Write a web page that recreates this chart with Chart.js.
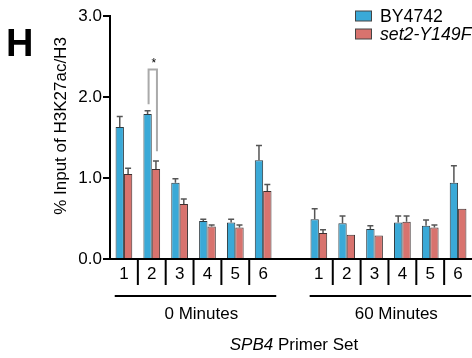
<!DOCTYPE html>
<html>
<head>
<meta charset="utf-8">
<script src="https://cdn.jsdelivr.net/npm/chart.js@4"></script>
<style>
  html, body { margin: 0; padding: 0; background: #fff; overflow: hidden; }
  #wrap { width: 472px; height: 358px; }
</style>
</head>
<body>
<div id="wrap"><canvas id="myChart" width="472" height="358"></canvas></div>
<script>
// primer sets for 0 and 60 minutes, empty slot in the middle
const primers = ["1", "2", "3", "4", "5", "6", "", "1", "2", "3", "4", "5", "6"];
const groupNames = ["0 Minutes", "60 Minutes"];
const yTicks = [0, 1, 2, 3];

// mean values
const wildType = [1.63, 1.79, 0.94, 0.47, 0.45, 1.22, null, 0.49, 0.44, 0.37, 0.45, 0.41, 0.94];
const mutant = [1.05, 1.11, 0.68, 0.40, 0.39, 0.84, null, 0.32, 0.30, 0.29, 0.46, 0.39, 0.62];
// upper end of the error bars
const wildTypeErr = [1.76, 1.83, 0.99, 0.49, 0.49, 1.40, null, 0.62, 0.53, 0.41, 0.53, 0.48, 1.15];
const mutantErr = [1.12, 1.21, 0.74, 0.42, 0.42, 0.92, null, 0.36, 0.30, 0.30, 0.53, 0.42, 0.62];

const fontFam = "'Liberation Sans', Arial, sans-serif";

// error bars + significance bracket + extra axis text
const extras = {
  id: "extras",
  afterDatasetsDraw(chart) {
    const ctx = chart.ctx;
    const x = chart.scales.x;
    const y = chart.scales.y;
    const errs = [wildTypeErr, mutantErr];

    ctx.save();
    ctx.strokeStyle = "#555";
    ctx.lineWidth = 1.5;
    errs.forEach((arr, d) => {
      const meta = chart.getDatasetMeta(d);
      arr.forEach((v, i) => {
        if (v == null) return;
        const bar = meta.data[i];
        const top = y.getPixelForValue(v);
        if (bar.y - top < 1) return;
        ctx.beginPath();
        ctx.moveTo(bar.x, bar.y);
        ctx.lineTo(bar.x, top);
        ctx.moveTo(bar.x - 3, top);
        ctx.lineTo(bar.x + 3, top);
        ctx.stroke();
      });
    });

    // * bracket over primer 2, 0 min
    const b = chart.getDatasetMeta(0).data[1];
    const r = chart.getDatasetMeta(1).data[1];
    const bx = b.x + 1, rx = r.x + 1;
    ctx.strokeStyle = "#aaa";
    ctx.lineWidth = 2;
    ctx.beginPath();
    ctx.moveTo(bx, y.getPixelForValue(1.91));
    ctx.lineTo(bx, y.getPixelForValue(2.34));
    ctx.lineTo(rx, y.getPixelForValue(2.34));
    ctx.lineTo(rx, y.getPixelForValue(1.33));
    ctx.stroke();
    ctx.fillStyle = "#000";
    ctx.font = "12px " + fontFam;
    ctx.textAlign = "center";
    ctx.textBaseline = "middle";
    ctx.fillText("*", (bx + rx) / 2 + 1, y.getPixelForValue(2.41));

    // separators between primer labels
    ctx.strokeStyle = "#000";
    ctx.lineWidth = 2;
    for (let i = 0; i < primers.length - 1; i++) {
      if (primers[i] === "" || primers[i + 1] === "") continue;
      const px = (x.getPixelForValue(i) + x.getPixelForValue(i + 1)) / 2;
      ctx.beginPath();
      ctx.moveTo(px, y.bottom);
      ctx.lineTo(px, y.bottom + 26);
      ctx.stroke();
    }

    // group lines and names
    const step = x.getPixelForValue(1) - x.getPixelForValue(0);
    ctx.font = "17px " + fontFam;
    groupNames.forEach((name, g) => {
      const first = g * 7;
      const x0 = x.getPixelForValue(first) - step * 0.33;
      const x1 = x.getPixelForValue(first + 5) + step * 0.47;
      ctx.beginPath();
      ctx.moveTo(x0, 296);
      ctx.lineTo(x1, 296);
      ctx.stroke();
      ctx.fillText(name, x.getPixelForValue(first + 2.78), 314);
    });

    // x title: SPB4 Primer Set
    ctx.textAlign = "left";
    ctx.font = "italic 17px " + fontFam;
    const w1 = ctx.measureText("SPB4").width;
    ctx.font = "17px " + fontFam;
    const w2 = ctx.measureText(" Primer Set").width;
    const sx = 294 - (w1 + w2) / 2;
    ctx.font = "italic 17px " + fontFam;
    ctx.fillText("SPB4", sx, 345);
    ctx.font = "17px " + fontFam;
    ctx.fillText(" Primer Set", sx + w1, 345);

    // y title
    ctx.save();
    ctx.translate(61, 126);
    ctx.rotate(-Math.PI / 2);
    ctx.textAlign = "center";
    ctx.fillText("% Input of H3K27ac/H3", 0, 0);
    ctx.restore();

    // panel letter
    ctx.font = "bold 38px " + fontFam;
    ctx.textAlign = "left";
    ctx.textBaseline = "alphabetic";
    ctx.fillText("H", 6, 56);

    // legend
    ctx.lineWidth = 1;
    ctx.textBaseline = "middle";
    chart.data.datasets.forEach((ds, d) => {
      const ly = 16 + d * 18;
      ctx.fillStyle = ds.backgroundColor;
      ctx.strokeStyle = "#444";
      ctx.fillRect(355.5, ly - 5, 16, 10);
      ctx.strokeRect(355.5, ly - 5, 16, 10);
      ctx.fillStyle = "#000";
      ctx.font = (d === 1 ? "italic " : "") + "17.7px " + fontFam;
      ctx.fillText(ds.label, 380, ly + 1);
    });
    ctx.restore();
  }
};

new Chart(document.getElementById("myChart"), {
  type: "bar",
  data: {
    labels: primers,
    datasets: [
      {
        label: "BY4742",
        data: wildType,
        backgroundColor: "#3aa9d7",
        borderColor: "#2d3a40",
        borderWidth: 1,
      },
      {
        label: "set2-Y149F",
        data: mutant,
        backgroundColor: "#d8736e",
        borderColor: "#3d3030",
        borderWidth: 1,
      },
    ],
  },
  options: {
    responsive: false,
    animation: false,
    layout: { padding: { top: 16, left: 0, right: 0, bottom: 0 } },
    datasets: {
      bar: { categoryPercentage: 0.6, barPercentage: 1.0 },
    },
    plugins: {
      legend: { display: false },
      tooltip: { enabled: false },
    },
    scales: {
      x: {
        grid: { display: false, drawTicks: false },
        border: { display: true, color: "#000", width: 2 },
        ticks: {
          color: "#000",
          font: { size: 17, family: fontFam },
          padding: 5,
          maxRotation: 0,
          autoSkip: false,
        },
        afterFit: (s) => { s.height = 99; },
      },
      y: {
        min: 0,
        max: 3,
        afterBuildTicks: (s) => { s.ticks = yTicks.map((v) => ({ value: v })); },
        grid: {
          drawOnChartArea: false,
          drawTicks: true,
          tickLength: 7,
          color: "#000",
          lineWidth: 2,
        },
        border: { display: true, color: "#000", width: 2 },
        ticks: {
          color: "#000",
          font: { size: 17, family: fontFam },
          padding: 1,
          callback: (v) => v.toFixed(1),
        },
        afterFit: (s) => { s.width = 110; },
      },
    },
  },
  plugins: [extras],
});
</script>
</body>
</html>
